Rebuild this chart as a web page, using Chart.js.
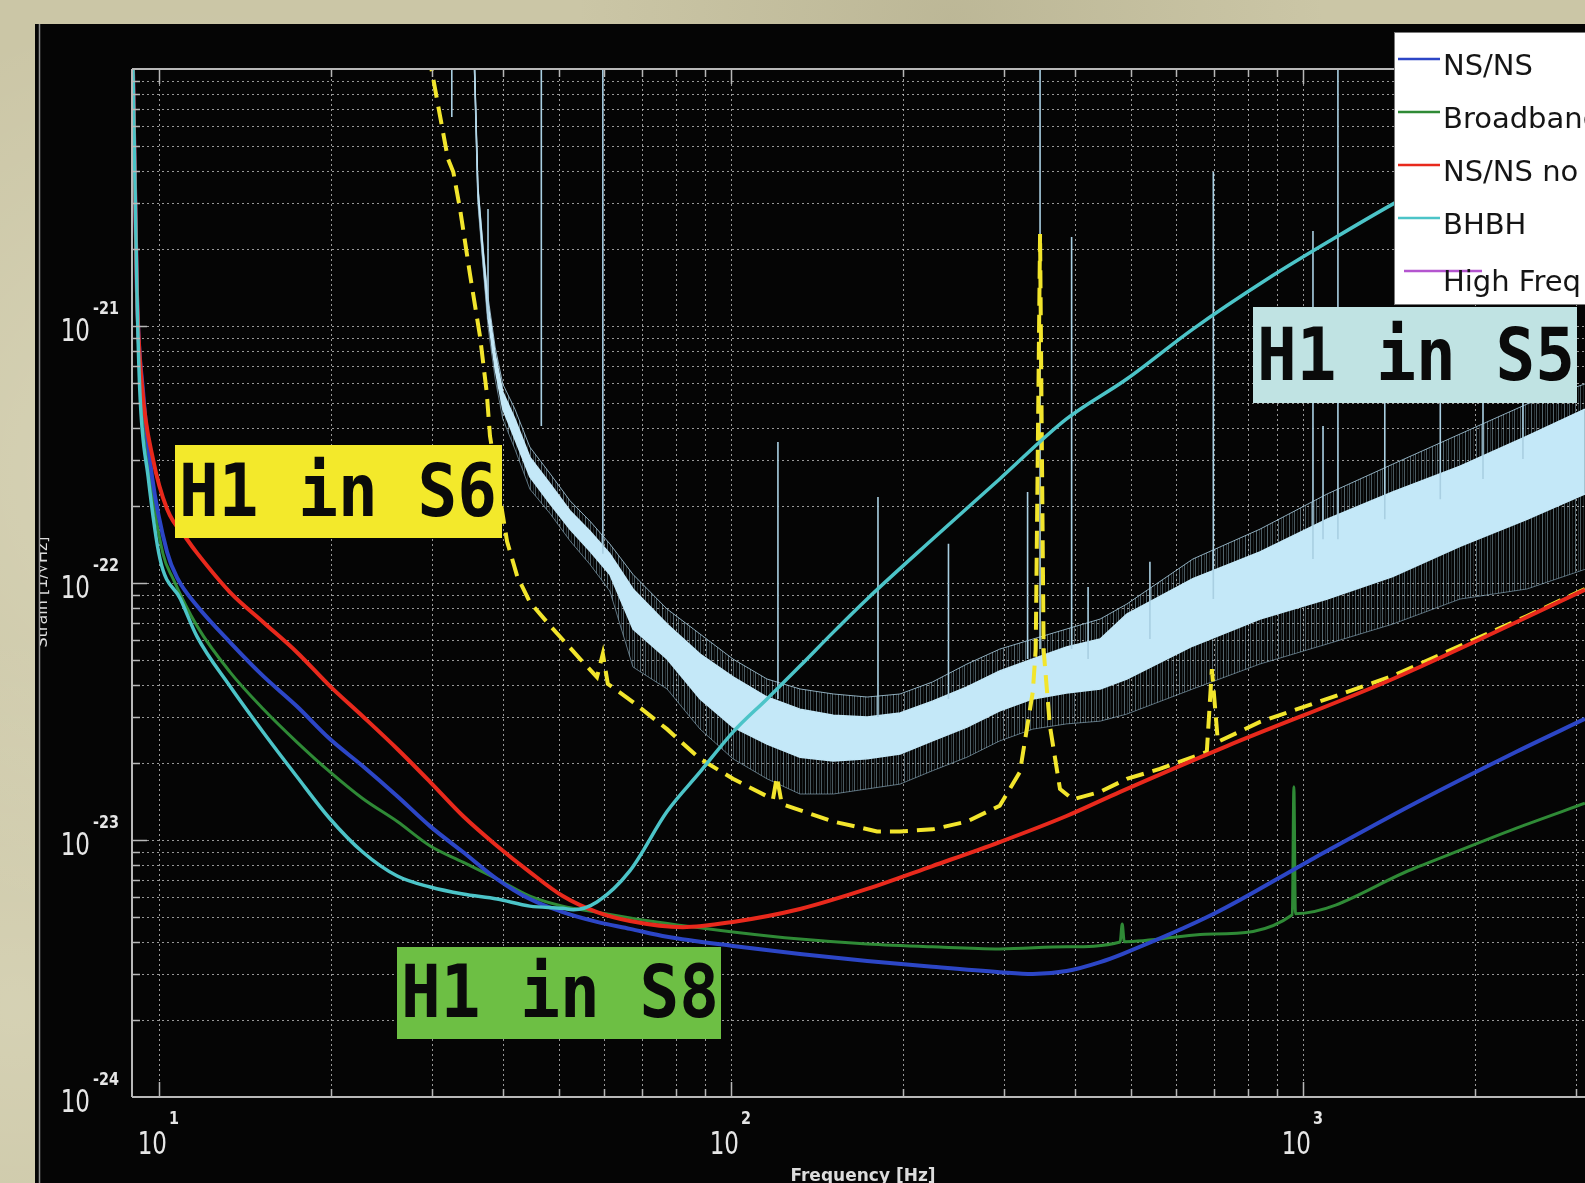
<!DOCTYPE html>
<html>
<head>
<meta charset="utf-8">
<title>H1 S5 / S6 / S8</title>
<script src="https://cdn.jsdelivr.net/npm/chart.js@4.4.0/dist/chart.umd.min.js"></script>
<style>
  html, body { margin: 0; padding: 0; width: 1585px; height: 1183px; overflow: hidden; }
  body {
    background-color: #cbc6a6;
    background-image:
      radial-gradient(circle at 12% 40%, rgba(255,255,235,0.25), transparent 30%),
      radial-gradient(circle at 60% 2%, rgba(120,115,80,0.18), transparent 25%),
      radial-gradient(circle at 1% 85%, rgba(255,255,235,0.2), transparent 20%);
  }
  #panel { position: absolute; left: 35px; top: 24px; width: 1550px; height: 1159px; background: #050505; }
  canvas { display: block; }
</style>
</head>
<body>
<div id="panel"><canvas id="grafico" width="1550" height="1159"></canvas></div>
<script>
// valores (Hz, strain 1/sqrt(Hz))
const frecNSNS = [9.0, 9.15, 9.38, 9.72, 10.33, 10.78, 11.65, 13.3, 15.2, 17.4, 19.9, 22.7, 26.1, 29.8, 34.0, 39.0, 44.5, 50.8, 58.3, 66.6, 77.3, 100.8, 132, 173, 225, 295, 337, 386, 442, 483, 697, 1045, 1570, 2356, 3111];
const strainNSNS = [1.09e-20, 1.36e-21, 5.54e-22, 2.61e-22, 1.32e-22, 1.04e-22, 8.15e-23, 5.89e-23, 4.35e-23, 3.32e-23, 2.47e-23, 1.94e-23, 1.48e-23, 1.13e-23, 8.98e-24, 7.05e-24, 5.89e-24, 5.24e-24, 4.8e-24, 4.51e-24, 4.2e-24, 3.87e-24, 3.6e-24, 3.38e-24, 3.21e-24, 3.06e-24, 3.01e-24, 3.09e-24, 3.35e-24, 3.6e-24, 5.15e-24, 8.5e-24, 1.39e-23, 2.2e-23, 2.96e-23];

const frecBroadband = [9.0, 9.15, 9.34, 9.65, 10.16, 10.58, 11.65, 13.3, 15.2, 17.4, 19.9, 22.7, 26.1, 29.8, 34.0, 39.0, 44.5, 50.8, 58.3, 72.1, 100.8, 132, 173, 225, 295, 386, 479, 483, 487, 697, 958, 964, 970, 1570, 2356, 3111];
const strainBroadband = [1.09e-20, 1.36e-21, 5.54e-22, 2.61e-22, 1.3e-22, 1.04e-22, 6.81e-23, 4.51e-23, 3.24e-23, 2.41e-23, 1.84e-23, 1.45e-23, 1.18e-23, 9.48e-24, 8.2e-24, 7.05e-24, 6.05e-24, 5.53e-24, 5.24e-24, 4.84e-24, 4.39e-24, 4.12e-24, 3.94e-24, 3.84e-24, 3.77e-24, 3.84e-24, 4.01e-24, 4.71e-24, 4.02e-24, 4.31e-24, 5.12e-24, 1.61e-23, 5.17e-24, 7.78e-24, 1.11e-23, 1.39e-23];

const frecNoSRM = [9.0, 9.15, 9.34, 9.76, 10.33, 11.19, 11.65, 13.3, 15.2, 17.4, 19.9, 22.7, 26.1, 29.8, 34.0, 39.0, 44.5, 50.8, 58.3, 66.6, 82.4, 100.8, 132, 173, 225, 295, 386, 479, 736, 1435, 3111];
const strainNoSRM = [1.09e-20, 1.36e-21, 5.84e-22, 3.04e-22, 1.94e-22, 1.48e-22, 1.31e-22, 9.22e-23, 7.05e-23, 5.39e-23, 3.97e-23, 3.03e-23, 2.26e-23, 1.68e-23, 1.24e-23, 9.48e-24, 7.5e-24, 6.05e-24, 5.24e-24, 4.84e-24, 4.58e-24, 4.8e-24, 5.39e-24, 6.45e-24, 7.92e-24, 9.82e-24, 1.24e-23, 1.54e-23, 2.32e-23, 4.23e-23, 9.4e-23];

const frecBHBH = [9.0, 9.15, 9.26, 9.57, 10.04, 10.9, 11.65, 13.3, 15.2, 17.4, 19.9, 22.7, 26.1, 29.8, 34.0, 39.0, 44.5, 50.8, 53.0, 58.3, 66.6, 77.3, 88.3, 100.8, 115.6, 132, 151, 173, 225, 295, 386, 492, 642, 865, 1128, 1435, 3111];
const strainBHBH = [1.09e-20, 1.36e-21, 5.5e-22, 2.6e-22, 1.24e-22, 8.67e-23, 6.2e-23, 3.97e-23, 2.63e-23, 1.77e-23, 1.21e-23, 8.98e-24, 7.24e-24, 6.56e-24, 6.16e-24, 5.89e-24, 5.53e-24, 5.42e-24, 5.35e-24, 5.74e-24, 7.6e-24, 1.29e-23, 1.84e-23, 2.63e-23, 3.54e-23, 4.75e-23, 6.44e-23, 8.67e-23, 1.48e-22, 2.54e-22, 4.35e-22, 6.22e-22, 9.73e-22, 1.52e-21, 2.18e-21, 2.98e-21, 7.5e-21];

const frecS6 = [29.6, 31.0, 32.0, 32.7, 33.6, 35.0, 36.4, 37.4, 37.9, 40.6, 42.3, 44.5, 48.3, 54.5, 58.3, 59.7, 60.9, 67.4, 77.3, 88.3, 100.8, 115.6, 118.4, 120.3, 122.7, 151, 180, 197.5, 225, 258.6, 295, 320, 337, 341, 347, 352, 361, 376, 396, 442, 492, 562, 679, 693, 710, 841, 1102, 1435, 1882, 2464, 3111];
const strainS6 = [1.15e-20, 6.56e-21, 4.47e-21, 3.97e-21, 2.85e-21, 1.57e-21, 9.14e-22, 5.54e-22, 3.73e-22, 1.45e-22, 1.06e-22, 8.43e-23, 6.81e-23, 5.06e-23, 4.3e-23, 5.3e-23, 4.05e-23, 3.44e-23, 2.7e-23, 2.07e-23, 1.73e-23, 1.48e-23, 1.44e-23, 1.76e-23, 1.38e-23, 1.18e-23, 1.08e-23, 1.08e-23, 1.1e-23, 1.18e-23, 1.36e-23, 1.84e-23, 3.77e-23, 5.5e-23, 2.28e-21, 5.5e-23, 2.78e-23, 1.58e-23, 1.44e-23, 1.54e-23, 1.73e-23, 1.89e-23, 2.2e-23, 4.62e-23, 2.41e-23, 2.88e-23, 3.54e-23, 4.35e-23, 5.69e-23, 7.44e-23, 9.48e-23];

// espectro S5: bordes de la banda de ruido
const frecS5 = [35.5, 36.1, 36.9, 37.6, 38.7, 39.9, 41.9, 44.5, 48.3, 52.3, 56.7, 61.4, 67.4, 77.3, 88.3, 100.8, 115.6, 132, 151, 173, 197.5, 225, 258.6, 295, 337, 386, 442, 492, 642, 841, 1102, 1435, 1882, 2464, 3111];
const s5BordeSup = [1.31e-20, 3.57e-21, 1.99e-21, 1.3e-21, 8.28e-22, 5.95e-22, 4.75e-22, 3.38e-22, 2.66e-22, 2.09e-22, 1.74e-22, 1.42e-22, 1.08e-22, 7.92e-23, 6.33e-23, 5.06e-23, 4.23e-23, 3.87e-23, 3.7e-23, 3.6e-23, 3.7e-23, 4.12e-23, 4.84e-23, 5.53e-23, 6.05e-23, 6.62e-23, 7.24e-23, 8.28e-23, 1.24e-22, 1.62e-22, 2.22e-22, 2.9e-22, 3.8e-22, 4.97e-22, 5.95e-22];
const s5NucleoSup = [1.31e-20, 3.41e-21, 1.91e-21, 1.22e-21, 7.78e-22, 5.54e-22, 4.35e-22, 3.09e-22, 2.43e-22, 1.91e-22, 1.59e-22, 1.3e-22, 9.48e-23, 6.92e-23, 5.29e-23, 4.31e-23, 3.6e-23, 3.23e-23, 3.06e-23, 3.01e-23, 3.12e-23, 3.47e-23, 3.94e-23, 4.55e-23, 5.06e-23, 5.64e-23, 6.05e-23, 7.57e-23, 1.04e-22, 1.32e-22, 1.77e-22, 2.26e-22, 2.85e-22, 3.73e-22, 4.75e-22];
const s5NucleoInf = [1.31e-20, 3.2e-21, 1.74e-21, 1.08e-21, 6.8e-22, 4.75e-22, 3.63e-22, 2.59e-22, 2.03e-22, 1.62e-22, 1.33e-22, 1.08e-22, 6.62e-23, 5.06e-23, 3.54e-23, 2.75e-23, 2.36e-23, 2.1e-23, 2.03e-23, 2.07e-23, 2.16e-23, 2.43e-23, 2.75e-23, 3.18e-23, 3.54e-23, 3.73e-23, 3.87e-23, 4.23e-23, 5.69e-23, 7.24e-23, 8.66e-23, 1.06e-22, 1.39e-22, 1.77e-22, 2.22e-22];
const s5BordeInf = [1.31e-20, 2.98e-21, 1.64e-21, 9.91e-22, 6.22e-22, 4.35e-22, 3.32e-22, 2.32e-22, 1.86e-22, 1.46e-22, 1.18e-22, 9.31e-23, 4.71e-23, 3.87e-23, 2.7e-23, 2.07e-23, 1.73e-23, 1.51e-23, 1.51e-23, 1.58e-23, 1.65e-23, 1.86e-23, 2.1e-23, 2.43e-23, 2.7e-23, 2.83e-23, 2.9e-23, 3.09e-23, 3.87e-23, 4.84e-23, 5.79e-23, 6.92e-23, 8.66e-23, 9.48e-23, 1.13e-22];

// lineas espectrales del S5
const frecPicos = [32.5, 37.6, 46.6, 59.7, 120.8, 180.7, 240, 330, 347, 394, 421, 540, 697, 1041, 1084, 1151, 1390, 1738, 2064, 2424];
const picosArriba = [1.1e-20, 2.85e-21, 1.1e-20, 1.1e-20, 3.54e-22, 2.16e-22, 1.42e-22, 2.26e-22, 1.1e-20, 2.22e-21, 9.64e-23, 1.21e-22, 3.97e-21, 2.34e-21, 4.08e-22, 1.1e-20, 5.06e-22, 5.06e-22, 5.69e-22, 5.43e-22];
const picosAbajo = [6.5e-21, 1.06e-21, 4.08e-22, 1.3e-22, 3.54e-23, 3.01e-23, 3.54e-23, 5.06e-23, 5.53e-23, 5.53e-23, 5.06e-23, 6.05e-23, 8.67e-23, 1.24e-22, 1.48e-22, 1.48e-22, 1.77e-22, 2.12e-22, 2.54e-22, 3.04e-22];

const decadasX = [10, 100, 1000];
const exponentesX = ['1', '2', '3'];
const decadasY = [1e-24, 1e-23, 1e-22, 1e-21];
const exponentesY = ['-24', '-23', '-22', '-21'];
const decadasGrillaX = [1, 10, 100, 1000];
const decadasGrillaY = [1e-24, 1e-23, 1e-22, 1e-21, 1e-20];

const etiquetasLeyenda = ['NS/NS', 'Broadband', 'NS/NS no SRM', 'BHBH', 'High Freq'];

function puntos(frec, valores) {
    return frec.map((f, i) => ({ x: f, y: valores[i] }));
}

function puntosPicos() {
    const pts = [];
    frecPicos.forEach((f, i) => {
        pts.push({ x: f, y: picosArriba[i] }, { x: f, y: picosAbajo[i] }, { x: f, y: null });
    });
    return pts;
}

function serie(label, data, color, extra) {
    return Object.assign({
        label, data,
        borderColor: color, backgroundColor: color,
        borderWidth: 3.5, pointRadius: 0, tension: 0, fill: false
    }, extra);
}

function valoresGrilla(decadas) {
    const vals = [];
    decadas.forEach(d => {
        for (let k = 1; k <= 9; k++) vals.push({ v: k * d, mayor: k === 1 });
    });
    return vals;
}

function textoEscalado(ctx, texto, x, y, fuente, ex, ey, alin) {
    ctx.save();
    ctx.translate(x, y);
    ctx.scale(ex, ey);
    ctx.font = fuente;
    ctx.textAlign = alin;
    ctx.textBaseline = 'alphabetic';
    ctx.fillText(texto, 0, 0);
    ctx.restore();
}

// textura de rayas verticales para el borde ruidoso de la banda S5
function texturaRuido() {
    const c = document.createElement('canvas');
    c.width = 11;
    c.height = 4;
    const g = c.getContext('2d');
    [[0, 0.45], [3, 0.22], [5, 0.4], [8, 0.16]].forEach(([px, alfa]) => {
        g.fillStyle = `rgba(175,215,232,${alfa})`;
        g.fillRect(px, 0, 1, 4);
    });
    return g.createPattern(c, 'repeat');
}

const cajas = [
    { texto: 'H1 in S6', fondo: '#f3e92b', x: 140, y: 421, w: 327, h: 93 },
    { texto: 'H1 in S8', fondo: '#6dbf44', x: 362, y: 923, w: 324, h: 92 },
    { texto: 'H1 in S5', fondo: '#c0e3e3', x: 1218, y: 283, w: 324, h: 96 }
];

const decorado = {
    id: 'decorado',
    beforeDraw(chart) {
        const { ctx, width, height } = chart;
        ctx.save();
        ctx.fillStyle = '#050505';
        ctx.fillRect(0, 0, width, height);
        ctx.strokeStyle = '#8f8f8f';
        ctx.lineWidth = 1.5;
        ctx.beginPath();
        ctx.moveTo(4.5, 0);
        ctx.lineTo(4.5, height);
        ctx.stroke();
        ctx.restore();
    },
    beforeDatasetsDraw(chart) {
        const { ctx, chartArea: a, scales: { x, y } } = chart;
        ctx.save();
        ctx.strokeStyle = 'rgba(215,215,215,0.7)';
        ctx.lineWidth = 1;
        ctx.setLineDash([2, 3]);
        valoresGrilla(decadasGrillaX).forEach(g => {
            if (g.v <= x.min * 1.01 || g.v >= x.max) return;
            const px = Math.round(x.getPixelForValue(g.v)) + 0.5;
            ctx.beginPath(); ctx.moveTo(px, a.top); ctx.lineTo(px, a.bottom); ctx.stroke();
        });
        valoresGrilla(decadasGrillaY).forEach(g => {
            if (g.v <= y.min * 1.01 || g.v >= y.max * 0.99) return;
            const py = Math.round(y.getPixelForValue(g.v)) + 0.5;
            ctx.beginPath(); ctx.moveTo(a.left, py); ctx.lineTo(a.right, py); ctx.stroke();
        });
        ctx.restore();
    },
    afterDatasetsDraw(chart) {
        const { ctx, chartArea: a, scales: { x, y } } = chart;
        ctx.save();
        // marco y marcas hacia dentro
        ctx.strokeStyle = '#b8b8b8';
        ctx.lineWidth = 2;
        ctx.beginPath();
        ctx.moveTo(a.left, a.top); ctx.lineTo(a.right, a.top);
        ctx.moveTo(a.left, a.top); ctx.lineTo(a.left, a.bottom);
        ctx.moveTo(a.left, a.bottom); ctx.lineTo(a.right, a.bottom);
        ctx.stroke();
        ctx.lineWidth = 1.5;
        valoresGrilla(decadasGrillaX).forEach(g => {
            if (g.v <= x.min * 1.01 || g.v >= x.max) return;
            const px = Math.round(x.getPixelForValue(g.v)) + 0.5;
            const largo = g.mayor ? 15 : 8;
            ctx.beginPath();
            ctx.moveTo(px, a.bottom); ctx.lineTo(px, a.bottom - largo);
            ctx.moveTo(px, a.top); ctx.lineTo(px, a.top + largo);
            ctx.stroke();
        });
        valoresGrilla(decadasGrillaY).forEach(g => {
            if (g.v <= y.min * 1.01 || g.v >= y.max * 0.99) return;
            const py = Math.round(y.getPixelForValue(g.v)) + 0.5;
            ctx.beginPath(); ctx.moveTo(a.left, py); ctx.lineTo(a.left + (g.mayor ? 15 : 8), py); ctx.stroke();
        });

        // etiquetas de los ejes
        ctx.fillStyle = '#e6e6e6';
        decadasY.forEach((v, i) => {
            const py = y.getPixelForValue(v);
            textoEscalado(ctx, '10', a.left - 42, py + 15, '32px "DejaVu Sans"', 0.72, 1, 'right');
            textoEscalado(ctx, exponentesY[i], a.left - 39, py - 12, 'bold 18px "DejaVu Sans"', 0.8, 1, 'left');
        });
        decadasX.forEach((v, i) => {
            const px = x.getPixelForValue(v);
            textoEscalado(ctx, '10', px + 8, a.bottom + 57, '32px "DejaVu Sans"', 0.72, 1, 'right');
            textoEscalado(ctx, exponentesX[i], px + 10, a.bottom + 27, 'bold 18px "DejaVu Sans"', 0.8, 1, 'left');
        });
        ctx.fillStyle = '#dcdcdc';
        textoEscalado(ctx, 'Frequency [Hz]', 828, 1157, 'bold 17px "DejaVu Sans"', 1, 1, 'center');
        ctx.save();
        ctx.beginPath();
        ctx.rect(5, 0, 40, chart.height);
        ctx.clip();
        ctx.translate(12, 568);
        ctx.rotate(-Math.PI / 2);
        ctx.font = '16px "DejaVu Sans"';
        ctx.textAlign = 'center';
        ctx.fillText('Strain [1/\u221AHz]', 0, 0);
        ctx.restore();

        // cajas de texto
        cajas.forEach(c => {
            ctx.fillStyle = c.fondo;
            ctx.fillRect(c.x, c.y, c.w, c.h);
            ctx.fillStyle = '#0a0a0a';
            textoEscalado(ctx, c.texto, c.x + 4, c.y + c.h * 0.76, 'bold 66px "DejaVu Sans Mono"', 1, 1.1, 'left');
        });

        // leyenda
        ctx.fillStyle = '#ffffff';
        ctx.fillRect(1359, 8, 240, 272);
        ctx.strokeStyle = '#7a7a7a';
        ctx.lineWidth = 1;
        ctx.strokeRect(1359.5, 8.5, 240, 272);
        etiquetasLeyenda.forEach((txt, i) => {
            const ds = chart.data.datasets.find(d => d.label === txt);
            const ly = 35 + i * 53;
            const ultimo = i === etiquetasLeyenda.length - 1;
            ctx.strokeStyle = ds.borderColor;
            ctx.lineWidth = 2.5;
            ctx.beginPath();
            ctx.moveTo(ultimo ? 1369 : 1363, ly);
            ctx.lineTo(ultimo ? 1447 : 1405, ly);
            ctx.stroke();
            ctx.fillStyle = '#151515';
            ctx.font = '29px "DejaVu Sans"';
            ctx.textAlign = 'left';
            ctx.textBaseline = 'middle';
            ctx.fillText(txt, 1408, ly + (ultimo ? 12 : 8));
        });
        ctx.restore();
    }
};

const ruido = texturaRuido();
const celeste = '#c4e8f8';
const suave = { cubicInterpolationMode: 'monotone' };

const datasets = [
    serie('S5 borde sup', puntos(frecS5, s5BordeSup), 'rgba(165,200,218,0.85)', { borderWidth: 1, order: 11 }),
    serie('S5 nucleo sup', puntos(frecS5, s5NucleoSup), celeste, { borderWidth: 1.5, order: 10, fill: '-1', backgroundColor: ruido }),
    serie('S5 nucleo inf', puntos(frecS5, s5NucleoInf), celeste, { borderWidth: 1.5, order: 9, fill: '-1', backgroundColor: celeste }),
    serie('S5 borde inf', puntos(frecS5, s5BordeInf), 'rgba(150,185,205,0.6)', { borderWidth: 1, order: 8, fill: '-1', backgroundColor: ruido }),
    serie('S5 lineas', puntosPicos(), '#a9cfe2', { borderWidth: 1.6, order: 7, spanGaps: false }),
    serie('H1 in S6', puntos(frecS6, strainS6), '#f2e52c', { borderWidth: 4, borderDash: [18, 9], order: 6 }),
    serie('Broadband', puntos(frecBroadband, strainBroadband), '#2f8a36', Object.assign({ borderWidth: 3, order: 4 }, suave)),
    serie('NS/NS', puntos(frecNSNS, strainNSNS), '#2c46c6', Object.assign({ borderWidth: 4, order: 3 }, suave)),
    serie('NS/NS no SRM', puntos(frecNoSRM, strainNoSRM), '#e8291c', Object.assign({ borderWidth: 4, order: 2 }, suave)),
    serie('BHBH', puntos(frecBHBH, strainBHBH), '#4cc4c8', Object.assign({ borderWidth: 3.5, order: 1 }, suave)),
    serie('High Freq', [], '#b455cf', { borderWidth: 2, order: 5 })
];

new Chart(document.getElementById('grafico').getContext('2d'), {
    type: 'line',
    data: { datasets },
    options: {
        responsive: false,
        animation: false,
        events: [],
        layout: { padding: { top: 45, right: 0, bottom: 0, left: 0 } },
        plugins: { legend: { display: false }, tooltip: { enabled: false } },
        scales: {
            x: {
                type: 'logarithmic', min: 8.97, max: 3112, bounds: 'data',
                ticks: { display: false }, grid: { display: false }, border: { display: false },
                afterFit: (s) => { s.height = 86; }
            },
            y: {
                type: 'logarithmic', min: 1e-24, max: 1e-20, bounds: 'data',
                ticks: { display: false }, grid: { display: false }, border: { display: false },
                afterFit: (s) => { s.width = 97; }
            }
        }
    },
    plugins: [decorado]
});
</script>
</body>
</html>
